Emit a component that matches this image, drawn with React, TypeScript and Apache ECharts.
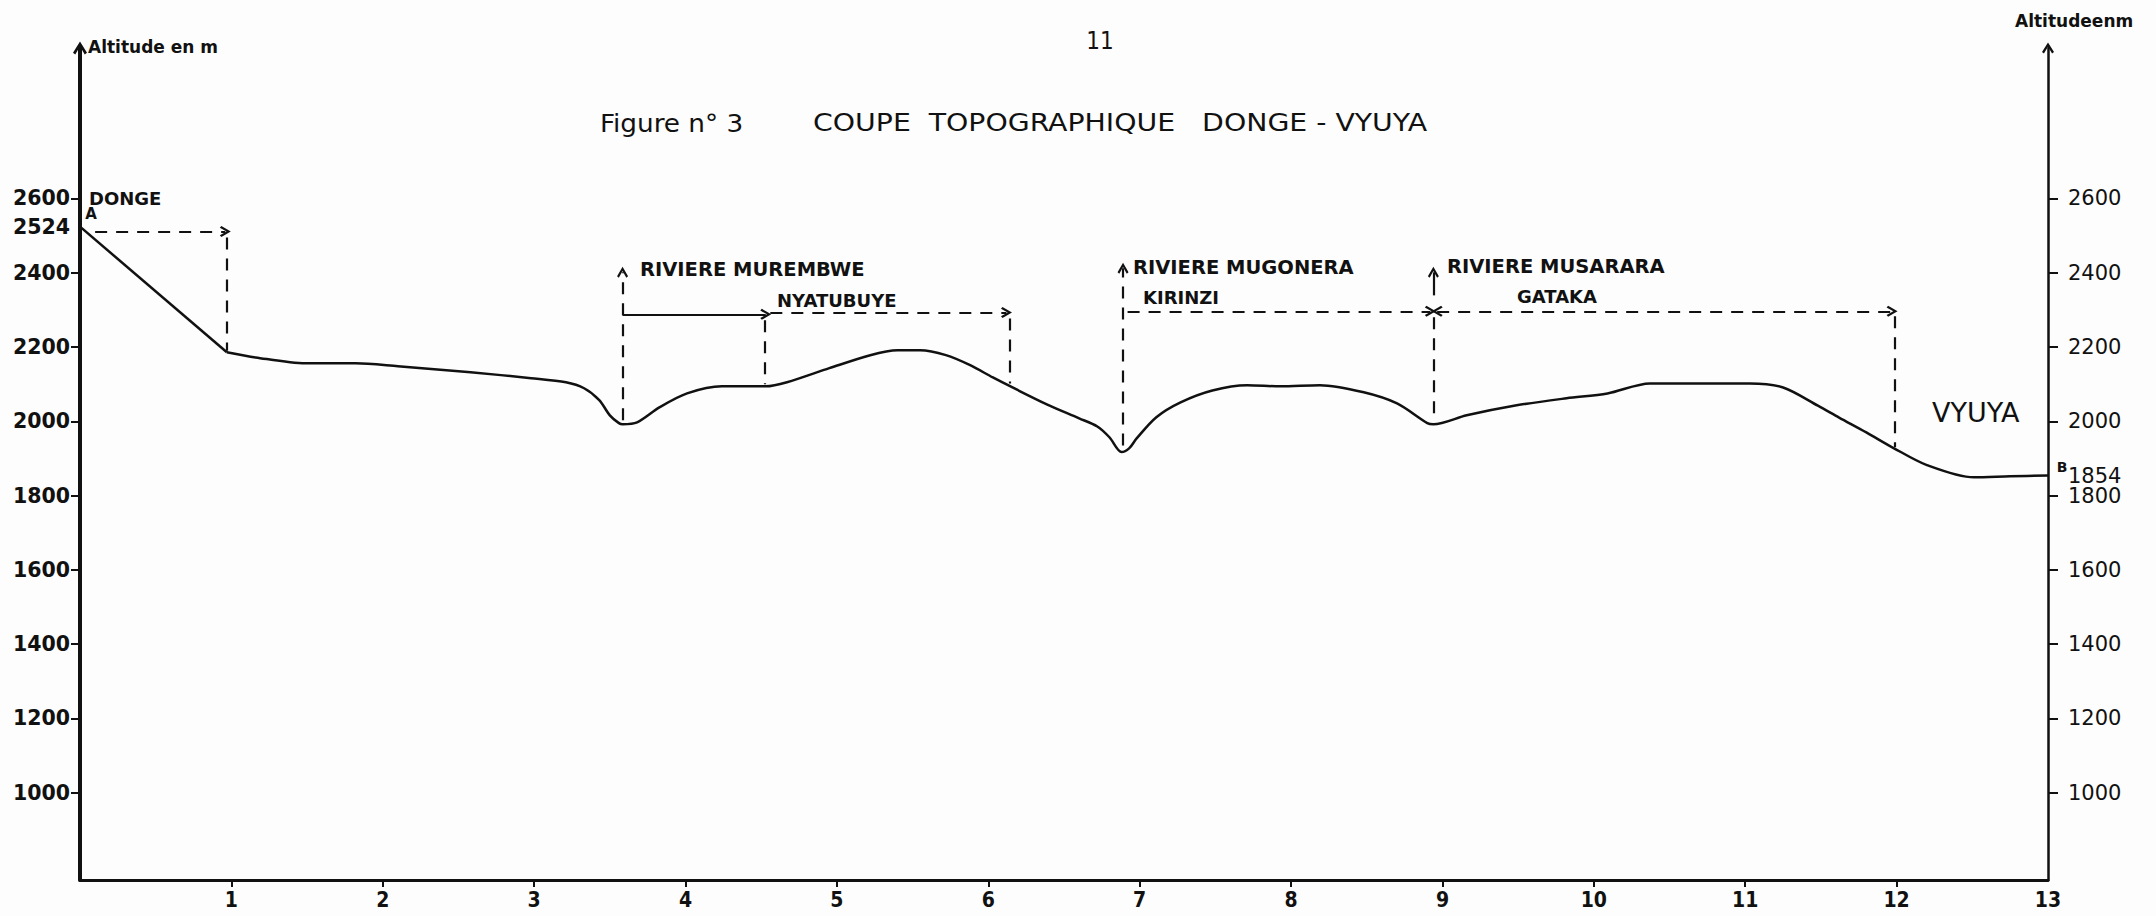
import React, { useEffect, useRef } from 'react';
import * as echarts from 'echarts';

// Profile: distance along the section (km) and altitude (m)
const distanceKm = [0, 0.97, 1.16, 1.49, 1.82, 2.1, 2.58, 2.98, 3.21, 3.33, 3.43, 3.5, 3.56, 3.585, 3.68, 3.83, 4.01, 4.24, 4.53, 4.67, 4.95, 5.22, 5.4, 5.55, 5.72, 5.88, 6.03, 6.16, 6.39, 6.6, 6.72, 6.8, 6.88, 6.93, 6.98, 7.11, 7.27, 7.48, 7.71, 7.93, 8.19, 8.48, 8.7, 8.9, 8.94, 9.16, 9.49, 9.82, 10.09, 10.37, 10.7, 11.03, 11.25, 11.48, 11.62, 11.8, 11.98, 12.2, 12.51, 12.75, 13];
const altitudeM = [2524, 2186, 2172, 2156, 2156, 2148, 2132, 2116, 2105, 2089, 2057, 2016, 1995, 1992, 1997, 2038, 2075, 2094, 2094, 2105, 2143, 2178, 2191, 2191, 2178, 2151, 2118, 2091, 2045, 2008, 1986, 1957, 1917, 1927, 1954, 2011, 2051, 2083, 2097, 2094, 2097, 2078, 2048, 1995, 1992, 2016, 2043, 2062, 2075, 2102, 2102, 2102, 2091, 2042, 2010, 1970, 1928, 1882, 1849, 1852, 1854];

// Axis ticks and labels
const distanceTicks = [1, 2, 3, 4, 5, 6, 7, 8, 9, 10, 11, 12];
const distanceLabels = [1, 2, 3, 4, 5, 6, 7, 8, 9, 10, 11, 12, 13];
const altitudeTicks = [1000, 1200, 1400, 1600, 1800, 2000, 2200, 2400, 2600];
const leftAltitudeLabels = [1000, 1200, 1400, 1600, 1800, 2000, 2200, 2400, 2524, 2600];
const rightAltitudeLabels = [1000, 1200, 1400, 1600, 1800, 1854, 2000, 2200, 2400, 2600];

// Guide lines in data space: [x1, y1, x2, y2, kind]
// kind: 'dash' | 'dashArrow' | 'dashBoth' | 'solidArrow'
const guideSegments: [number, number, number, number, string][] = [
  [0.1, 2511, 0.96, 2511, 'dashArrow'],
  [0.97, 2495, 0.97, 2190, 'dash'],
  [3.584, 2003, 3.584, 2401, 'dashArrow'],
  [3.584, 2288, 4.53, 2288, 'solidArrow'],
  [4.523, 2272, 4.523, 2100, 'dash'],
  [4.56, 2293, 6.12, 2293, 'dashArrow'],
  [6.14, 2277, 6.14, 2102, 'dash'],
  [6.89, 1935, 6.89, 2412, 'dashArrow'],
  [6.92, 2296, 8.92, 2296, 'dashArrow'],
  [8.94, 2339, 8.94, 2401, 'solidArrow'],
  [8.94, 2280, 8.94, 2003, 'dash'],
  [8.965, 2296, 11.97, 2296, 'dashBoth'],
  [11.99, 2283, 11.99, 1930, 'dash'],
];

// Place names and annotations: [text, x, y, font, align]
const placeLabels: [string, number, number, string, string][] = [
  ['DONGE', 89, 198, 'bold 18px "DejaVu Sans"', 'left'],
  ['A', 91, 214, 'bold 15px "DejaVu Sans"', 'center'],
  ['RIVIERE MUREMBWE', 640, 269, 'bold 19.5px "DejaVu Sans"', 'left'],
  ['NYATUBUYE', 777, 300, 'bold 18px "DejaVu Sans"', 'left'],
  ['RIVIERE MUGONERA', 1133, 267, 'bold 19.5px "DejaVu Sans"', 'left'],
  ['KIRINZI', 1143, 297, 'bold 18px "DejaVu Sans"', 'left'],
  ['RIVIERE MUSARARA', 1447, 266, 'bold 19.5px "DejaVu Sans"', 'left'],
  ['GATAKA', 1517, 296, 'bold 18px "DejaVu Sans"', 'left'],
  ['VYUYA', 1932, 412, '27px "DejaVu Sans"', 'left'],
  ['B', 2062, 467, 'bold 14px "DejaVu Sans"', 'center'],
];

const INK = '#111';
const NARROW = '"Liberation Sans Narrow", "DejaVu Sans Condensed", "Roboto Condensed", "Liberation Sans", sans-serif';
const CHEVRON = 'path://M5,0 L10,8 L8.4,9.3 L5,3.6 L1.6,9.3 L0,8 Z';

const plain = (v: number) => String(v);

function buildMarkLines() {
  return guideSegments.map(([x1, y1, x2, y2, kind]) => {
    const dashed = kind !== 'solidArrow';
    const startSym = kind === 'dashBoth' ? CHEVRON : 'none';
    const endSym = kind === 'dash' ? 'none' : CHEVRON;
    return [
      {
        coord: [x1, y1],
        symbol: startSym,
        symbolSize: [11, 11],
        lineStyle: { color: INK, width: 2.2, type: dashed ? [12, 9] : 'solid' },
      },
      { coord: [x2, y2], symbol: endSym, symbolSize: [11, 11] },
    ];
  });
}

export default function App() {
  const ref = useRef<HTMLDivElement>(null);

  useEffect(() => {
    if (!ref.current) return;
    const chart = echarts.init(ref.current, undefined, { renderer: 'svg' });
    const profile = distanceKm.map((d, i) => [d, altitudeM[i]]);

    const texts = placeLabels.map(([text, x, y, font, align]) => ({
      type: 'text',
      x,
      y,
      silent: true,
      style: { text, font, fill: INK, textAlign: align, textVerticalAlign: 'middle' },
    }));

    chart.setOption({
      animation: false,
      backgroundColor: '#fdfdfd',
      grid: { left: 80, right: 108, top: 48, bottom: 36, containLabel: false },
      xAxis: {
        type: 'value',
        min: 0,
        max: 13,
        interval: 1,
        axisLine: { show: true, onZero: false, lineStyle: { color: INK, width: 3 } },
        axisTick: { show: true, customValues: distanceTicks, length: 7, lineStyle: { color: INK, width: 2 } },
        axisLabel: {
          customValues: distanceLabels,
          formatter: plain,
          color: INK,
          fontFamily: NARROW,
          fontWeight: 'bold',
          fontSize: 21,
          margin: 9,
        },
        splitLine: { show: false },
      },
      yAxis: [
        {
          type: 'value',
          position: 'left',
          min: 765,
          max: 3005,
          axisLine: {
            show: true,
            onZero: false,
            symbol: ['none', CHEVRON],
            symbolSize: [14, 16],
            lineStyle: { color: INK, width: 4 },
          },
          axisTick: { show: true, customValues: altitudeTicks, length: 9, lineStyle: { color: INK, width: 2 } },
          axisLabel: {
            customValues: leftAltitudeLabels,
            formatter: plain,
            color: INK,
            fontFamily: '"DejaVu Sans", sans-serif',
            fontWeight: 'bold',
            fontSize: 20.5,
            margin: 10,
          },
          splitLine: { show: false },
        },
        {
          type: 'value',
          position: 'right',
          min: 765,
          max: 3005,
          axisLine: {
            show: true,
            onZero: false,
            symbol: ['none', CHEVRON],
            symbolSize: [12, 14],
            lineStyle: { color: INK, width: 2.5 },
          },
          axisTick: { show: true, customValues: altitudeTicks, length: 10, lineStyle: { color: INK, width: 2 } },
          axisLabel: {
            customValues: rightAltitudeLabels,
            formatter: plain,
            color: INK,
            fontFamily: '"DejaVu Sans", sans-serif',
            fontSize: 21,
            margin: 20,
          },
          splitLine: { show: false },
        },
      ],
      series: [
        {
          name: 'Versant Donge',
          type: 'line',
          data: profile.slice(0, 2),
          showSymbol: false,
          smooth: false,
          lineStyle: { color: INK, width: 2.5 },
          silent: true,
        },
        {
          name: 'Profil',
          type: 'line',
          data: profile.slice(1),
          showSymbol: false,
          smooth: 0.3,
          lineStyle: { color: INK, width: 2.5 },
          silent: true,
          markLine: {
            silent: true,
            symbol: ['none', 'none'],
            label: { show: false },
            emphasis: { disabled: true },
            lineStyle: { color: INK, width: 2.2 },
            data: buildMarkLines(),
          },
        },
      ],
      graphic: [
        {
          type: 'text',
          x: 88,
          y: 47,
          silent: true,
          style: { text: 'Altitude en m', font: 'bold 17px "DejaVu Sans"', fill: INK, textAlign: 'left', textVerticalAlign: 'middle' },
        },
        {
          type: 'text',
          x: 2015,
          y: 21,
          silent: true,
          style: { text: 'Altitudeenm', font: 'bold 17px "DejaVu Sans"', fill: INK, textAlign: 'left', textVerticalAlign: 'middle' },
        },
        {
          type: 'text',
          x: 1100,
          y: 41,
          silent: true,
          style: { text: '11', font: '24px ' + NARROW, fill: INK, textAlign: 'center', textVerticalAlign: 'middle' },
        },
        {
          type: 'text',
          x: 600,
          y: 123,
          scaleX: 1.17,
          silent: true,
          style: { text: 'Figure n° 3', font: '25px ' + NARROW, fill: INK, textAlign: 'left', textVerticalAlign: 'middle' },
        },
        {
          type: 'text',
          x: 813,
          y: 123,
          scaleX: 1.26,
          silent: true,
          style: {
            text: 'COUPE  TOPOGRAPHIQUE   DONGE - VYUYA',
            font: '25px ' + NARROW,
            fill: INK,
            textAlign: 'left',
            textVerticalAlign: 'middle',
          },
        },
        ...texts,
      ],
    });

    return () => chart.dispose();
  }, []);

  return (
    <div
      ref={ref}
      style={{ position: 'fixed', left: 0, top: 0, width: '2156px', height: '916px', background: '#fdfdfd' }}
    />
  );
}
